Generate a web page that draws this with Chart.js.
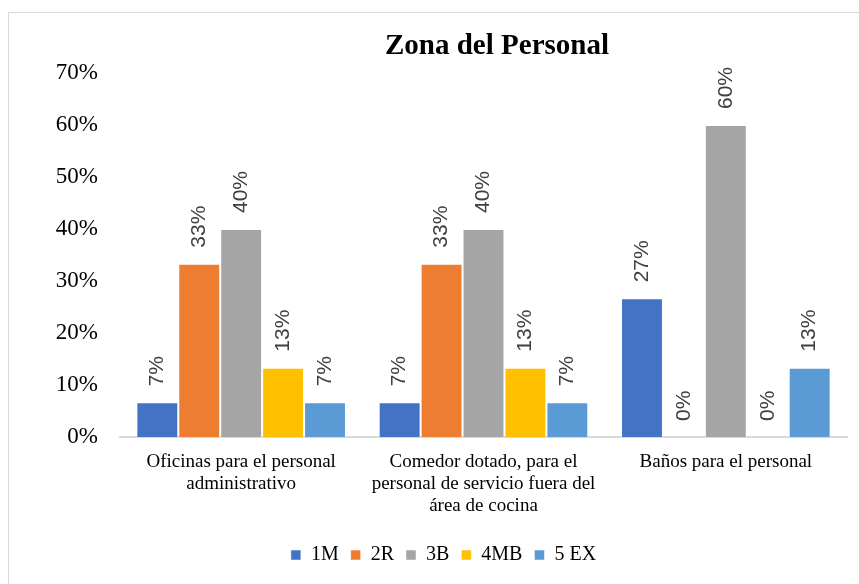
<!DOCTYPE html>
<html>
<head>
<meta charset="utf-8">
<script src="https://cdn.jsdelivr.net/npm/chart.js@4"></script>
<style>
  html, body { margin: 0; padding: 0; background: #fff; overflow: hidden; }
  #frame { position: absolute; left: 8px; top: 12px; width: 900px; height: 620px; border: 1px solid #d9d9d9; }
</style>
</head>
<body>
<div id="frame"><canvas id="chart" width="869" height="572"></canvas></div>
<script>
const categories = [
  ['Oficinas para el personal', 'administrativo'],
  ['Comedor dotado, para el', 'personal de servicio fuera del', 'área de cocina'],
  ['Baños para el personal']
];
const seriesNames = ['1M', '2R', '3B', '4MB', '5 EX'];
const values1M  = [6.67, 6.67, 26.67];
const values2R  = [33.33, 33.33, 0];
const values3B  = [40, 40, 60];
const values4MB = [13.33, 13.33, 0];
const values5EX = [6.67, 6.67, 13.33];
const yTicks = [0, 10, 20, 30, 40, 50, 60, 70];
const colors = ['#4472C4', '#ED7D31', '#A5A5A5', '#FFC000', '#5B9BD5'];

const allValues = [values1M, values2R, values3B, values4MB, values5EX];

// rotated value labels above each bar + the title
const barLabels = {
  id: 'barLabels',
  afterDatasetsDraw(chart) {
    const ctx = chart.ctx;
    ctx.save();
    ctx.font = '21px "Liberation Sans", Arial, sans-serif';
    ctx.fillStyle = '#404040';
    ctx.textAlign = 'left';
    ctx.textBaseline = 'middle';
    chart.data.datasets.forEach((ds, i) => {
      chart.getDatasetMeta(i).data.forEach((bar, j) => {
        ctx.save();
        ctx.translate(bar.x, bar.y - 16);
        ctx.rotate(-Math.PI / 2);
        ctx.fillText(Math.round(ds.data[j]) + '%', 0, 0);
        ctx.restore();
      });
    });
    ctx.font = 'bold 29px "Liberation Serif", "Times New Roman", serif';
    ctx.fillStyle = '#000';
    ctx.textAlign = 'center';
    ctx.fillText('Zona del Personal', 488, 34);
    ctx.restore();
  }
};

new Chart(document.getElementById('chart'), {
  type: 'bar',
  data: {
    labels: categories,
    datasets: seriesNames.map((name, i) => ({
      label: name,
      data: allValues[i],
      backgroundColor: colors[i],
      borderColor: 'rgba(255,255,255,0.5)',
      borderWidth: 1,
      barPercentage: 1,
      categoryPercentage: 0.865
    }))
  },
  options: {
    responsive: false,
    animation: false,
    layout: { padding: { top: 60, right: 0, bottom: 10, left: 0 } },
    scales: {
      x: {
        grid: { display: false, drawTicks: false },
        border: { color: '#d9d9d9', width: 2 },
        ticks: {
          color: '#000',
          padding: 14,
          maxRotation: 0,
          font: { family: '"Liberation Serif", "Times New Roman", serif', size: 19, lineHeight: 1.15 }
        },
        afterFit(scale) { scale.height = 96; }
      },
      y: {
        min: 0,
        max: 70,
        grid: { display: false, drawTicks: false },
        border: { display: false },
        afterBuildTicks(scale) { scale.ticks = yTicks.map(v => ({ value: v })); },
        ticks: {
          color: '#000',
          padding: 22,
          font: { family: '"Liberation Serif", "Times New Roman", serif', size: 23 },
          callback: v => v + '%'
        },
        afterFit(scale) { scale.width = 111; }
      },
      // empty right-hand spacer so the legend centres like the original
      spacer: {
        type: 'linear',
        position: 'right',
        grid: { display: false, drawTicks: false },
        border: { display: false },
        ticks: { display: false },
        afterFit(scale) { scale.width = 31; }
      }
    },
    plugins: {
      title: { display: false },
      tooltip: { enabled: false },
      legend: {
        position: 'bottom',
        labels: {
          color: '#000',
          boxWidth: 10,
          boxHeight: 10,
          padding: 12,
          font: { family: '"Liberation Serif", "Times New Roman", serif', size: 20 }
        }
      }
    }
  },
  plugins: [barLabels]
});
</script>
</body>
</html>
